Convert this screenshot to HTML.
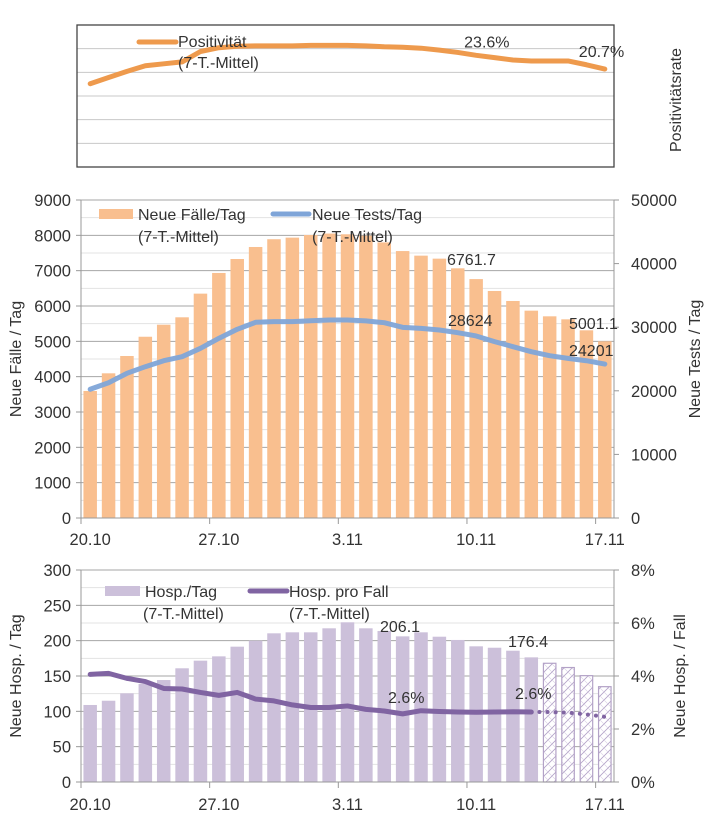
<!DOCTYPE html>
<html><head><meta charset="utf-8"><style>
html,body{margin:0;padding:0;background:#fff;}
svg{display:block;font-family:"Liberation Sans",sans-serif;}
text{fill:#333;font-size:16px;}
text.tk{font-size:16.5px;}
</style></head><body>
<svg id="c" width="709" height="833" viewBox="0 0 709 833" xmlns="http://www.w3.org/2000/svg">
<defs>
<pattern id="hatch" width="8" height="8" patternUnits="userSpaceOnUse">
<rect width="8" height="8" fill="#fff"/>
<path d="M0,8 L8,0 M-2,2 L2,-2 M6,10 L10,6" stroke="#b3a2c7" stroke-width="0.8"/>
<path d="M0,0 L8,8" stroke="#d5cce2" stroke-width="0.6"/>
</pattern>
</defs>
</svg>
<script>
const dateLabels = ["20.10","27.10","3.11","10.11","17.11"];
const posit = [17.6,18.9,20.2,21.4,21.8,22.2,24.4,25.2,25.5,25.6,25.6,25.6,25.7,25.7,25.7,25.6,25.4,25.3,25.1,24.7,24.2,23.6,23.1,22.6,22.4,22.4,22.4,21.6,20.7];
const cases = [3595,4095,4585,5130,5470,5680,6350,6935,7330,7670,7890,7935,8010,8050,8030,7990,7800,7555,7425,7340,7067,6761.7,6425,6142,5868,5708,5623,5312,5001.1];
const tests = [20240,21270,22750,23790,24730,25360,26680,28250,29670,30770,30870,30870,31020,31130,31130,31000,30710,29980,29820,29560,29140,28624,27730,26940,26150,25520,25100,24730,24201];
const hosp = [109,115,125.5,138.7,144.3,160.9,171.7,177.8,191.5,200,210.4,211.8,211.8,217.5,226,217.5,213.7,206.1,211.8,205.6,201,192,190,185.8,176.4,168,162,150.5,134.9];
const hospRate = [4.06,4.10,3.91,3.79,3.53,3.51,3.38,3.27,3.38,3.13,3.06,2.91,2.81,2.81,2.87,2.74,2.68,2.57,2.69,2.66,2.64,2.63,2.64,2.65,2.64,2.64,2.62,2.55,2.46];
const hospActualCount = 25;
const caseTicks = [0,1000,2000,3000,4000,5000,6000,7000,8000,9000];
const testTicks = [0,10000,20000,30000,40000,50000];
const hospTicks = [0,50,100,150,200,250,300];
const rateTicks = ["0%","2%","4%","6%","8%"];

const svg = document.getElementById('c');
const NS = "http://www.w3.org/2000/svg";
function mk(tag, attrs, parent){const e=document.createElementNS(NS,tag);for(const k in attrs)e.setAttribute(k,attrs[k]);(parent||svg).appendChild(e);return e;}
function txt(x,y,s,anchor,extra){const t=mk('text',Object.assign({x:x,y:y,'text-anchor':anchor||'start'},extra||{}));t.textContent=s;return t;}

const X0=81, X1=614, N=posit.length, STEP=(X1-X0)/N;
function xc(i){return X0+STEP*(i+0.5);}
function xe(i){return X0+STEP*i;}
const BW=13.5;

// ---------- Panel 1: positivity ----------
const P1T=25,P1B=167;
function y1(v){return P1B-(P1B-P1T)*v/30;}
for(let k=1;k<6;k++){const g=mk('line',{x1:X0-4,x2:X1,y1:P1T+(P1B-P1T)*k/6,y2:P1T+(P1B-P1T)*k/6,stroke:'#c8c8c8','stroke-width':1});

}
const box=mk('rect',{x:77,y:P1T,width:X1-77,height:P1B-P1T,fill:'none',stroke:'#444','stroke-width':1.3});


const pl=mk('polyline',{points:posit.map((v,i)=>xc(i)+','+y1(v)).join(' '),fill:'none',stroke:'#EE9A4D','stroke-width':5,'stroke-linejoin':'round','stroke-linecap':'round'});


let t;
t=txt(xc(21)-12,y1(posit[21])-8,posit[21].toFixed(1)+'%');


t=txt(xc(28)-26,y1(posit[28])-12,posit[28].toFixed(1)+'%');


const lg1=mk('line',{x1:139,x2:176,y1:42,y2:42,stroke:'#EE9A4D','stroke-width':5,'stroke-linecap':'round'});


t=txt(178,47,'Positivität');
t=txt(178,68,'(7-T.-Mittel)');
t=txt(0,0,'Positivitätsrate','middle',{transform:'translate(681,100) rotate(-90)'});


// ---------- Panel 2: cases/tests ----------
const P2T=200,P2B=518;
function y2(v){return P2B-(P2B-P2T)*v/9000;}
function y2r(v){return P2B-(P2B-P2T)*v/50000;}
for(let v=500;v<=9000;v+=500){const maj=v%1000===0;const g=mk('line',{x1:X0,x2:X1,y1:y2(v),y2:y2(v),stroke:maj?'#a6a6a6':'#e3e3e3','stroke-width':1});
}
cases.forEach((v,i)=>{const b=mk('rect',{x:xc(i)-BW/2,y:y2(v),width:BW,height:P2B-y2(v),fill:'#F9BF8F'});

});
const tl=mk('polyline',{points:tests.map((v,i)=>xc(i)+','+y2r(v)).join(' '),fill:'none',stroke:'#7FA5D8','stroke-width':5,'stroke-linejoin':'round','stroke-linecap':'round','stroke-opacity':0.95});

mk('line',{x1:X0,x2:X0,y1:P2T,y2:P2B,stroke:'#999'});
mk('line',{x1:X1,x2:X1,y1:P2T,y2:P2B,stroke:'#999'});
mk('line',{x1:X0-5,x2:X1,y1:P2B,y2:P2B,stroke:'#999'});
caseTicks.forEach(v=>{mk('line',{x1:X0-5,x2:X0,y1:y2(v),y2:y2(v),stroke:'#999'});t=txt(71,y2(v)+6,String(v),'end',{'class':'tk'});
});
testTicks.forEach(v=>{mk('line',{x1:X1,x2:X1+5,y1:y2r(v),y2:y2r(v),stroke:'#999'});t=txt(631,y2r(v)+6,String(v),'start',{'class':'tk'});
});
dateLabels.forEach((s,k)=>{const i=k*7;mk('line',{x1:xe(i),x2:xe(i),y1:P2B,y2:P2B+6,stroke:'#999'});t=txt(xc(i),545,s,'middle',{'class':'tk'});
});
t=txt(447,265,cases[21].toFixed(1));
t=txt(448,326,String(tests[21]));
t=txt(569,329,cases[28].toFixed(1));
t=txt(569,356,String(tests[28]));
const lr2=mk('rect',{x:99,y:209,width:34,height:10,fill:'#F9BF8F'});

t=txt(138,220,'Neue Fälle/Tag');
t=txt(138,242,'(7-T.-Mittel)');
const ll2=mk('line',{x1:273,x2:309,y1:214,y2:214,stroke:'#7FA5D8','stroke-width':5,'stroke-linecap':'round'});

t=txt(312,220,'Neue Tests/Tag');
t=txt(312,242,'(7-T.-Mittel)');
t=txt(0,0,'Neue Fälle / Tag','middle',{transform:'translate(21,359) rotate(-90)'});

t=txt(0,0,'Neue Tests / Tag','middle',{transform:'translate(700,359) rotate(-90)'});


// ---------- Panel 3: hospital ----------
const P3T=570,P3B=782;
function y3(v){return P3B-(P3B-P3T)*v/300;}
function y3r(v){return P3B-(P3B-P3T)*v/8;}
for(let v=25;v<=300;v+=25){const maj=v%50===0;const g=mk('line',{x1:X0,x2:X1,y1:y3(v),y2:y3(v),stroke:maj?'#a6a6a6':'#e3e3e3','stroke-width':1});
}
hosp.forEach((v,i)=>{const pred=i>=hospActualCount;const b=mk('rect',{x:xc(i)-BW/2+(pred?0.5:0),y:y3(v),width:pred?BW-1:BW,height:P3B-y3(v),fill:pred?'url(#hatch)':'#CCC0DA',stroke:pred?'#b3a2c7':'none','stroke-width':1.2});

});
const rl=mk('polyline',{points:hospRate.slice(0,hospActualCount).map((v,i)=>xc(i)+','+y3r(v)).join(' '),fill:'none',stroke:'#8064A2','stroke-width':5,'stroke-linejoin':'round','stroke-linecap':'round'});

const rd=mk('polyline',{points:hospRate.slice(hospActualCount-1).map((v,i)=>xc(i+hospActualCount-1)+','+y3r(v)).join(' '),fill:'none',stroke:'#8064A2','stroke-width':4,'stroke-dasharray':'0.1 8','stroke-linecap':'round'});

mk('line',{x1:X0,x2:X0,y1:P3T,y2:P3B,stroke:'#999'});
mk('line',{x1:X1,x2:X1,y1:P3T,y2:P3B,stroke:'#999'});
mk('line',{x1:X0-5,x2:X1,y1:P3B,y2:P3B,stroke:'#999'});
hospTicks.forEach(v=>{mk('line',{x1:X0-5,x2:X0,y1:y3(v),y2:y3(v),stroke:'#999'});t=txt(71,y3(v)+6,String(v),'end',{'class':'tk'});
});
rateTicks.forEach((s,k)=>{const yy=y3r(k*2);mk('line',{x1:X1,x2:X1+5,y1:yy,y2:yy,stroke:'#999'});t=txt(631,yy+6,s,'start',{'class':'tk'});
});
dateLabels.forEach((s,k)=>{const i=k*7;mk('line',{x1:xe(i),x2:xe(i),y1:P3B,y2:P3B+6,stroke:'#999'});t=txt(xc(i),810,s,'middle',{'class':'tk'});
});
t=txt(380,632,hosp[17].toFixed(1));
t=txt(508,647,hosp[24].toFixed(1));
t=txt(388,703,'2.6%');
t=txt(515,699,'2.6%');
const lr3=mk('rect',{x:105,y:586,width:35,height:10,fill:'#CCC0DA'});

t=txt(145,597,'Hosp./Tag');
t=txt(143,619,'(7-T.-Mittel)');
const ll3=mk('line',{x1:250,x2:287,y1:591,y2:591,stroke:'#8064A2','stroke-width':5,'stroke-linecap':'round'});

t=txt(289,597,'Hosp. pro Fall');
t=txt(289,619,'(7-T.-Mittel)');
t=txt(0,0,'Neue Hosp. / Tag','middle',{transform:'translate(21,676) rotate(-90)'});

t=txt(0,0,'Neue Hosp. / Fall','middle',{transform:'translate(685,676) rotate(-90)'});

</script>
</body></html>
